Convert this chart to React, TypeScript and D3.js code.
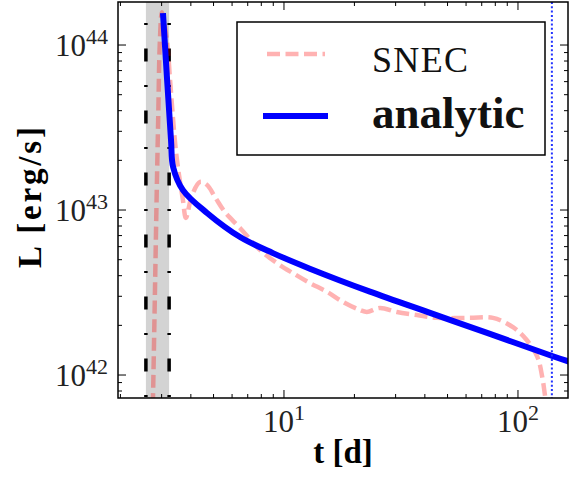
import React from 'react'
import * as d3 from 'd3'

// analytic light curve (t in days, L in erg/s)
const analyticT = [3.04, 3.29, 3.36, 3.7, 4.69, 6.49, 8.97, 12.9, 23.3, 42.1, 73.8, 141, 170]
const analyticL = [1.56e44, 2.66e43, 1.82e43, 1.32e43, 9.6e42, 6.86e42, 5.48e42, 4.41e42, 3.2e42, 2.38e42, 1.8e42, 1.3e42, 1.19e42]

// SNEC light curve
const snecT = [2.74, 2.76, 2.81, 2.86, 2.9, 2.95, 3.01, 3.16, 3.26, 3.36, 3.45, 3.56, 3.7, 3.81, 4.04, 4.38, 4.69, 5.07, 5.6, 6.49, 7.89, 9.33, 10.9, 12.9, 15.3, 17.9, 21.1, 22.6, 25.7, 30.4, 37, 45.1, 62.4, 78.2, 95.2, 109, 121, 127, 130, 133]
const snecL = [5e41, 8.1e41, 3.27e42, 1.32e43, 3.51e43, 1.07e44, 1.58e44, 1.07e44, 6.14e43, 3.51e43, 2.31e43, 1.63e43, 1.15e43, 8.95e42, 1.22e43, 1.48e43, 1.42e43, 1.2e43, 9.7e42, 7.78e42, 5.73e42, 4.77e42, 4.15e42, 3.61e42, 3.19e42, 2.77e42, 2.48e42, 2.41e42, 2.55e42, 2.41e42, 2.31e42, 2.22e42, 2.22e42, 2.22e42, 1.95e42, 1.63e42, 1.29e42, 9.7e41, 7.8e41, 6.1e41]

const bandT = [2.57, 3.23]
const endT = 139.6
const xMajor = [10, 100]
const yMajor = [42, 43, 44]

const W = 579
const H = 483
const left = 118, right = 568, top = 2, bottom = 398

const App = () => {
  const x = d3.scaleLog().domain([1.953, 163.6]).range([left, right])
  const y = d3.scaleLog().domain([7.256e41, 1.823e44]).range([bottom, top])

  const line = d3.line<[number, number]>()
    .x(d => x(d[0]))
    .y(d => y(d[1]))
    .curve(d3.curveCatmullRom.alpha(0.5))

  const analytic = line(analyticT.map((t, i) => [t, analyticL[i]]))
  const snec = line(snecT.map((t, i) => [t, snecL[i]]))

  // minor ticks
  const xMinor: number[] = []
  for (const base of [1, 10, 100]) for (let k = 2; k <= 9; k++) {
    const v = base * k
    if (v > 1.953 && v < 163.6) xMinor.push(v)
  }
  const yMinor: number[] = []
  for (const e of [41, 42, 43, 44]) for (let k = 2; k <= 9; k++) {
    const v = k * Math.pow(10, e)
    if (v > 7.256e41 && v < 1.823e44) yMinor.push(v)
  }

  const serif = 'Liberation Serif, Times New Roman, serif'

  return (
    <svg width={W} height={H} style={{ position: 'absolute', left: 0, top: 0, background: '#fff' }}>
      <defs>
        <clipPath id="plot">
          <rect x={left} y={top} width={right - left} height={bottom - top} />
        </clipPath>
      </defs>
      <rect width={W} height={H} fill="#fff" />

      <g clipPath="url(#plot)">
        <rect x={x(bandT[0])} y={top} width={x(bandT[1]) - x(bandT[0])} height={bottom - top} fill="#d3d3d3" />
        {bandT.map(t => (
          <line key={t} x1={x(t)} x2={x(t)} y1={top} y2={bottom} stroke="#000" strokeWidth={3.5}
            strokeDasharray="13 23.5 2 23.5" strokeDashoffset={15.5} />
        ))}
        <path d={snec ?? ''} fill="none" stroke="#ff0000" strokeOpacity={0.3} strokeWidth={4.5} strokeDasharray="13 5.5" />
        <path d={analytic ?? ''} fill="none" stroke="#0000ff" strokeWidth={6} />
        <line x1={x(endT)} x2={x(endT)} y1={top} y2={bottom} stroke="#2233ff" strokeWidth={2} strokeDasharray="2 2.3" />
      </g>

      {/* ticks, inward on all sides */}
      <g stroke="#000" strokeWidth={1}>
        {xMajor.map(v => (
          <g key={'xM' + v}>
            <line x1={x(v)} x2={x(v)} y1={bottom} y2={bottom - 8} />
            <line x1={x(v)} x2={x(v)} y1={top} y2={top + 8} />
          </g>
        ))}
        {xMinor.map(v => (
          <g key={'xm' + v}>
            <line x1={x(v)} x2={x(v)} y1={bottom} y2={bottom - 4} />
            <line x1={x(v)} x2={x(v)} y1={top} y2={top + 4} />
          </g>
        ))}
        {yMajor.map(e => (
          <g key={'yM' + e}>
            <line x1={left} x2={left + 8} y1={y(Math.pow(10, e))} y2={y(Math.pow(10, e))} />
            <line x1={right} x2={right - 8} y1={y(Math.pow(10, e))} y2={y(Math.pow(10, e))} />
          </g>
        ))}
        {yMinor.map(v => (
          <g key={'ym' + v}>
            <line x1={left} x2={left + 4} y1={y(v)} y2={y(v)} />
            <line x1={right} x2={right - 4} y1={y(v)} y2={y(v)} />
          </g>
        ))}
      </g>
      <rect x={left} y={top} width={right - left} height={bottom - top} fill="none" stroke="#000" strokeWidth={1.5} />

      {/* tick labels */}
      {xMajor.map(v => (
        <text key={'xl' + v} x={x(v)} y={432} textAnchor="middle" fontFamily={serif} fontSize={31} fill="#222">
          10<tspan dy={-12} fontSize={22}>{Math.round(Math.log10(v))}</tspan>
        </text>
      ))}
      {yMajor.map(e => (
        <text key={'yl' + e} x={108} y={y(Math.pow(10, e)) + 11} textAnchor="end" fontFamily={serif} fontSize={31} fill="#222">
          10<tspan dy={-12} fontSize={22}>{e}</tspan>
        </text>
      ))}

      {/* axis labels */}
      <text x={(left + right) / 2} y={463} textAnchor="middle" fontFamily={serif} fontWeight="bold" fontSize={33}>t [d]</text>
      <text transform="translate(41,197.5) rotate(-90)" textAnchor="middle" fontFamily={serif} fontWeight="bold" fontSize={33}
        textLength={141} lengthAdjust="spacing">L [erg/s]</text>

      {/* legend */}
      <rect x={237} y={22} width={308} height={133} fill="#fff" stroke="#000" strokeWidth={1.5} />
      <line x1={267} x2={325} y1={54} y2={54} stroke="#ff0000" strokeOpacity={0.3} strokeWidth={4.5} strokeDasharray="13 5.5" />
      <text x={372} y={72} fontFamily={serif} fontSize={36} fill="#111" textLength={96} lengthAdjust="spacing">SNEC</text>
      <line x1={263} x2={328} y1={116} y2={116} stroke="#0000ff" strokeWidth={6} />
      <text x={372} y={128} fontFamily={serif} fontWeight="bold" fontSize={45} fill="#111">analytic</text>
    </svg>
  )
}

export default App
